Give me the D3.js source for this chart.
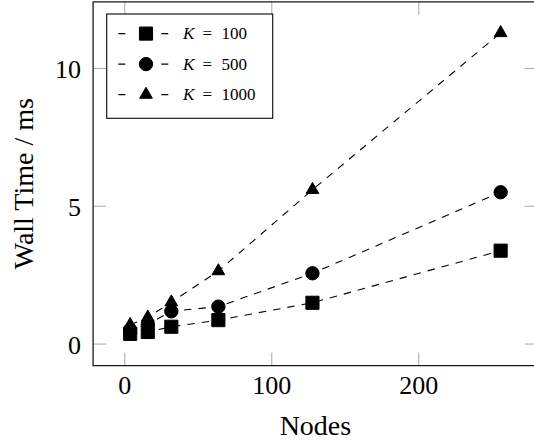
<!DOCTYPE html>
<html>
<head>
<meta charset="utf-8">
<script src="https://cdn.jsdelivr.net/npm/d3@7"></script>
<style>
  html, body { margin: 0; padding: 0; background: #fff; overflow: hidden; }
  svg { display: block; overflow: hidden; }
  text { font-family: "Liberation Serif", "Times New Roman", serif; fill: #000; }
</style>
</head>
<body>
<svg id="chart" width="534" height="446"></svg>
<script>
// ---- data ----
const nodes = [4, 16, 32, 64, 128, 256];
const k100 = [0.35, 0.42, 0.61, 0.85, 1.48, 3.37];
const k500 = [0.5, 0.7, 1.17, 1.34, 2.55, 5.49];
const k1000 = [0.68, 0.95, 1.5, 2.63, 5.58, 11.27];
const seriesNames = ["100", "500", "1000"];
const xTicks = [0, 100, 200];
const yTicks = [0, 5, 10];
const xLabel = "Nodes";
const yLabel = "Wall Time / ms";

const series = [
  { name: seriesNames[0], values: k100, symbol: d3.symbolSquare, size: 172 },
  { name: seriesNames[1], values: k500, symbol: d3.symbolCircle, size: 140 },
  { name: seriesNames[2], values: k1000, symbol: d3.symbolTriangle, size: 70 }
];

const svg = d3.select("#chart");
const L = 93.1, R = 537.7, T = 1.8, B = 365.6;

const x = d3.scaleLinear().domain([-21.2, 281.2]).range([L, R]);
const y = d3.scaleLinear().domain([-0.8, 12.4]).range([B, T]);

const tickLen = 13;
const tickColor = "#a8a8a8";

// ticks (all four sides, inward)
const axB = svg.append("g").attr("transform", `translate(0,${B})`)
  .call(d3.axisBottom(x).tickValues(xTicks).tickSize(-tickLen).tickFormat(d3.format("d")));
const axT = svg.append("g").attr("transform", `translate(0,${T})`)
  .call(d3.axisTop(x).tickValues(xTicks).tickSize(-tickLen).tickFormat(""));
const axL = svg.append("g").attr("transform", `translate(${L},0)`)
  .call(d3.axisLeft(y).tickValues(yTicks).tickSize(-tickLen).tickFormat(d3.format("d")));
const axR = svg.append("g").attr("transform", `translate(${R},0)`)
  .call(d3.axisRight(y).tickValues(yTicks).tickSize(-tickLen).tickFormat(""));

[axB, axT, axL, axR].forEach(g => {
  g.select(".domain").remove();
  g.selectAll(".tick line").attr("stroke", tickColor).attr("stroke-width", 1);
});
axB.selectAll(".tick text")
  .attr("y", 28.7).attr("dy", null)
  .style("font-size", "26px").style("font-family", "Liberation Serif, serif")
  .attr("fill", "#000");
axL.selectAll(".tick text")
  .attr("x", -12).attr("dy", null).attr("y", 9.8)
  .style("font-size", "26px").style("font-family", "Liberation Serif, serif")
  .attr("fill", "#000");
axT.selectAll(".tick text").remove();
axR.selectAll(".tick text").remove();

// frame (right side falls beyond the canvas edge)
svg.append("path")
  .attr("d", `M${R},${T}H${L}V${B}H${R}`)
  .attr("fill", "none").attr("stroke", "#1a1a1a").attr("stroke-width", 1.3);

// series
const line = d3.line().x((d, i) => x(nodes[i])).y(d => y(d));
series.forEach(s => {
  const g = svg.append("g");
  g.append("path")
    .attr("d", line(s.values))
    .attr("fill", "none").attr("stroke", "#000")
    .attr("stroke-width", 1.1).attr("stroke-dasharray", "7.5 7");
  g.selectAll("path.m").data(s.values).join("path")
    .attr("class", "m")
    .attr("d", d3.symbol().type(s.symbol).size(s.size))
    .attr("transform", (d, i) => `translate(${x(nodes[i])},${y(d)})`)
    .attr("fill", "#000").attr("stroke", "#000").attr("stroke-width", 1);
});

// axis labels
svg.append("text")
  .attr("x", (L + R) / 2).attr("y", 435)
  .attr("text-anchor", "middle").style("font-size", "28px")
  .text(xLabel);
svg.append("text")
  .attr("transform", `translate(33,${(T + B) / 2}) rotate(-90)`)
  .attr("text-anchor", "middle").style("font-size", "28px")
  .text(yLabel);

// legend
const lg = svg.append("g");
lg.append("rect")
  .attr("x", 106.7).attr("y", 14).attr("width", 166).attr("height", 104.3)
  .attr("fill", "#fff").attr("stroke", "#1a1a1a").attr("stroke-width", 1.2);
series.forEach((s, i) => {
  const cy = 33.6 + i * 30.5;
  const row = lg.append("g");
  row.append("line")
    .attr("x1", 118.3).attr("x2", 168.3).attr("y1", cy).attr("y2", cy)
    .attr("stroke", "#000").attr("stroke-width", 1.1)
    .attr("stroke-dasharray", "7 36 7");
  row.append("path")
    .attr("d", d3.symbol().type(s.symbol).size(s.size))
    .attr("transform", `translate(146,${cy})`)
    .attr("fill", "#000").attr("stroke", "#000").attr("stroke-width", 1);
  const t = row.append("text").attr("y", cy + 5.8).style("font-size", "17px");
  t.append("tspan").attr("x", 183).style("font-style", "italic").text("K");
  t.append("tspan").attr("x", 202.5).text("=");
  t.append("tspan").attr("x", 221.5).text(s.name);
});
</script>
</body>
</html>
